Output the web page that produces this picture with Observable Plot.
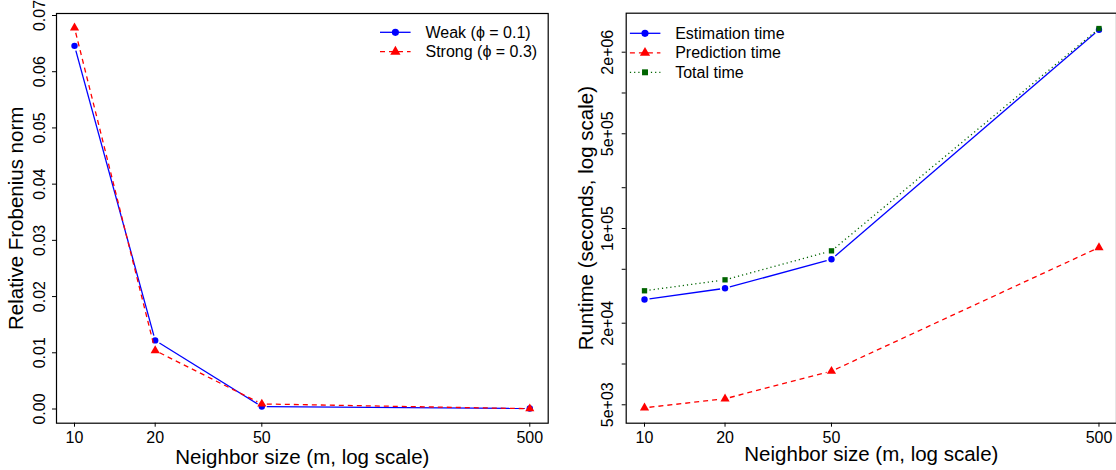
<!DOCTYPE html>
<html><head><meta charset="utf-8">
<script src="https://cdn.jsdelivr.net/npm/d3@7"></script>
<script src="https://cdn.jsdelivr.net/npm/@observablehq/plot@0.6"></script>
<style>
html,body{margin:0;padding:0;background:#fff;}
#wrap{position:relative;width:1116px;height:470px;overflow:hidden;display:flex;}
#wrap svg{display:block;flex:none;}
</style></head><body><div id="wrap"></div>
<script>
// ---- data ----
const neighbors = [10, 20, 50, 500];
const xTickLabels = ["10", "20", "50", "500"];
const weak = [0.0646, 0.0122, 0.00044, 0.0001];
const strong = [0.0678, 0.0104, 0.0009, 0.00005];
const frobTicks = [0, 0.01, 0.02, 0.03, 0.04, 0.05, 0.06, 0.07];
const estimation = [29900, 36200, 59300, 2930000];
const prediction = [4750, 5540, 8850, 72400];
const total = [34700, 41800, 68400, 2990000];
const runtimeTicks = [5e3, 1e4, 2e4, 5e4, 1e5, 2e5, 5e5, 1e6, 2e6];
const runtimeLabeled = [5e3, 2e4, 1e5, 5e5, 2e6];
const xTitle = "Neighbor size (m, log scale)";
const leftYTitle = "Relative Frobenius norm";
const rightYTitle = "Runtime (seconds, log scale)";
const leftLegend = ["Weak (ϕ = 0.1)", "Strong (ϕ = 0.3)"];
const rightLegend = ["Estimation time", "Prediction time", "Total time"];

const FONT = "Liberation Sans, Arial, Helvetica, sans-serif";
const W = 558, H = 470;

function pts(vals) { return neighbors.map((m, i) => ({m, v: vals[i]})); }
function segs(vals) { return d3.pairs(pts(vals)).map(([a, b]) => ({x1: a.m, y1: a.v, x2: b.m, y2: b.v})); }

const styles = {
  blue: {color: "#0000ff", dash: null, symbol: "circle", r: 3.2},
  red: {color: "#ff0000", dash: "5,4", symbol: "triangle", r: 3.4},
  green: {color: "#006400", dash: "1.2,3", symbol: "square", r: 3.0}
};

function seriesMarks(vals, st) {
  return [
    Plot.arrow(segs(vals), {x1: "x1", y1: "y1", x2: "x2", y2: "y2", stroke: st.color, strokeWidth: 1.3,
      strokeDasharray: st.dash, headLength: 0, inset: 5, strokeLinecap: "butt", bend: 0}),
    Plot.dot(pts(vals), {x: "m", y: "v", fill: st.color, stroke: "none", r: st.r, symbol: st.symbol})
  ];
}

function addLegend(svg, items, lineX1, lineX2, markX, textX, rows) {
  const g = d3.select(svg).append("g").attr("font-family", FONT).attr("font-size", 16).attr("text-anchor", "start");
  items.forEach(([label, st], i) => {
    const y = rows[i];
    g.append("line").attr("x1", lineX1).attr("x2", lineX2).attr("y1", y).attr("y2", y)
      .attr("stroke", st.color).attr("stroke-width", 1.3)
      .attr("stroke-dasharray", st.dash ? st.dash : null);
    const type = st.symbol === "circle" ? d3.symbolCircle : st.symbol === "triangle" ? d3.symbolTriangle : d3.symbolSquare;
    g.append("path").attr("d", d3.symbol().type(type).size(Math.PI * st.r * st.r * 1.25)())
      .attr("transform", `translate(${markX},${y})`).attr("fill", st.color);
    g.append("text").attr("x", textX).attr("y", y).attr("dy", "0.35em").attr("fill", "black")
      .attr("text-anchor", "start").text(label);
  });
}

const common = {
  width: W, height: H,
  style: {fontFamily: FONT, fontSize: "16px", background: "white", color: "black", overflow: "visible"}
};

const xLab = {frameAnchor: "bottom", dy: 15, fontSize: 16, textAnchor: "middle", lineAnchor: "middle"};
const yLab = {frameAnchor: "left", rotate: -90, fontSize: 16, textAnchor: "middle", lineAnchor: "middle"};

// ---- left panel ----
const fmt2 = d3.format(".2f");
const left = Plot.plot({
  ...common,
  marginLeft: 56, marginRight: 10.3, marginTop: 13, marginBottom: 47.3,
  x: {type: "log", domain: [8.566, 585.7], axis: null},
  y: {domain: [-0.002526, 0.070356], axis: null},
  marks: [
    Plot.axisX({ticks: neighbors, tickSize: 4, tickFormat: () => "", label: null}),
    Plot.axisY({ticks: frobTicks, tickSize: 4, tickFormat: () => "", label: null}),
    Plot.text(neighbors, {...xLab, x: d => d, text: (d, i) => xTickLabels[i]}),
    Plot.text(frobTicks, {...yLab, y: d => d, text: d => fmt2(d), dx: -16.5}),
    Plot.text([xTitle], {...xLab, text: d => d, dy: 34.3, fontSize: 20.5}),
    Plot.text([leftYTitle], {...yLab, text: d => d, dx: -40.5, fontSize: 20.5}),
    ...seriesMarks(weak, styles.blue),
    ...seriesMarks(strong, styles.red),
    Plot.frame({stroke: "black", strokeWidth: 1.2})
  ]
});
addLegend(left, [[leftLegend[0], styles.blue], [leftLegend[1], styles.red]], 380, 410.6, 395.4, 425.5, [32.3, 51.7]);

// ---- right panel ----
const fmtE = v => { const [m, e] = v.toExponential(0).split("e"); const s = e[0]; const n = e.slice(1).padStart(2, "0"); return `${m}e${s}${n}`; };
const right = Plot.plot({
  ...common,
  marginLeft: 67.7, marginRight: 0, marginTop: 12.7, marginBottom: 47.3,
  x: {type: "log", domain: [8.542, 581.4], axis: null},
  y: {type: "log", domain: [3657, 3.88e6], axis: null},
  marks: [
    Plot.axisX({ticks: neighbors, tickSize: 4, tickFormat: () => "", label: null}),
    Plot.axisY({ticks: runtimeTicks, tickSize: 4, tickFormat: () => "", label: null}),
    Plot.text(neighbors, {...xLab, x: d => d, text: (d, i) => xTickLabels[i]}),
    Plot.text(runtimeLabeled, {...yLab, y: d => d, text: d => fmtE(d), dx: -17.9}),
    Plot.text([xTitle], {...xLab, text: d => d, dy: 31, fontSize: 20.5}),
    Plot.text([rightYTitle], {...yLab, text: d => d, dx: -39.7, fontSize: 20.5}),
    ...seriesMarks(estimation, styles.blue),
    ...seriesMarks(prediction, styles.red),
    ...seriesMarks(total, styles.green),
    Plot.frame({stroke: "black", strokeWidth: 1.2})
  ]
});
addLegend(right, [[rightLegend[0], styles.blue], [rightLegend[1], styles.red], [rightLegend[2], styles.green]],
  71.9, 102.4, 87, 117.2, [33.3, 52.8, 72.3]);

document.getElementById("wrap").append(left, right);
</script></body></html>
